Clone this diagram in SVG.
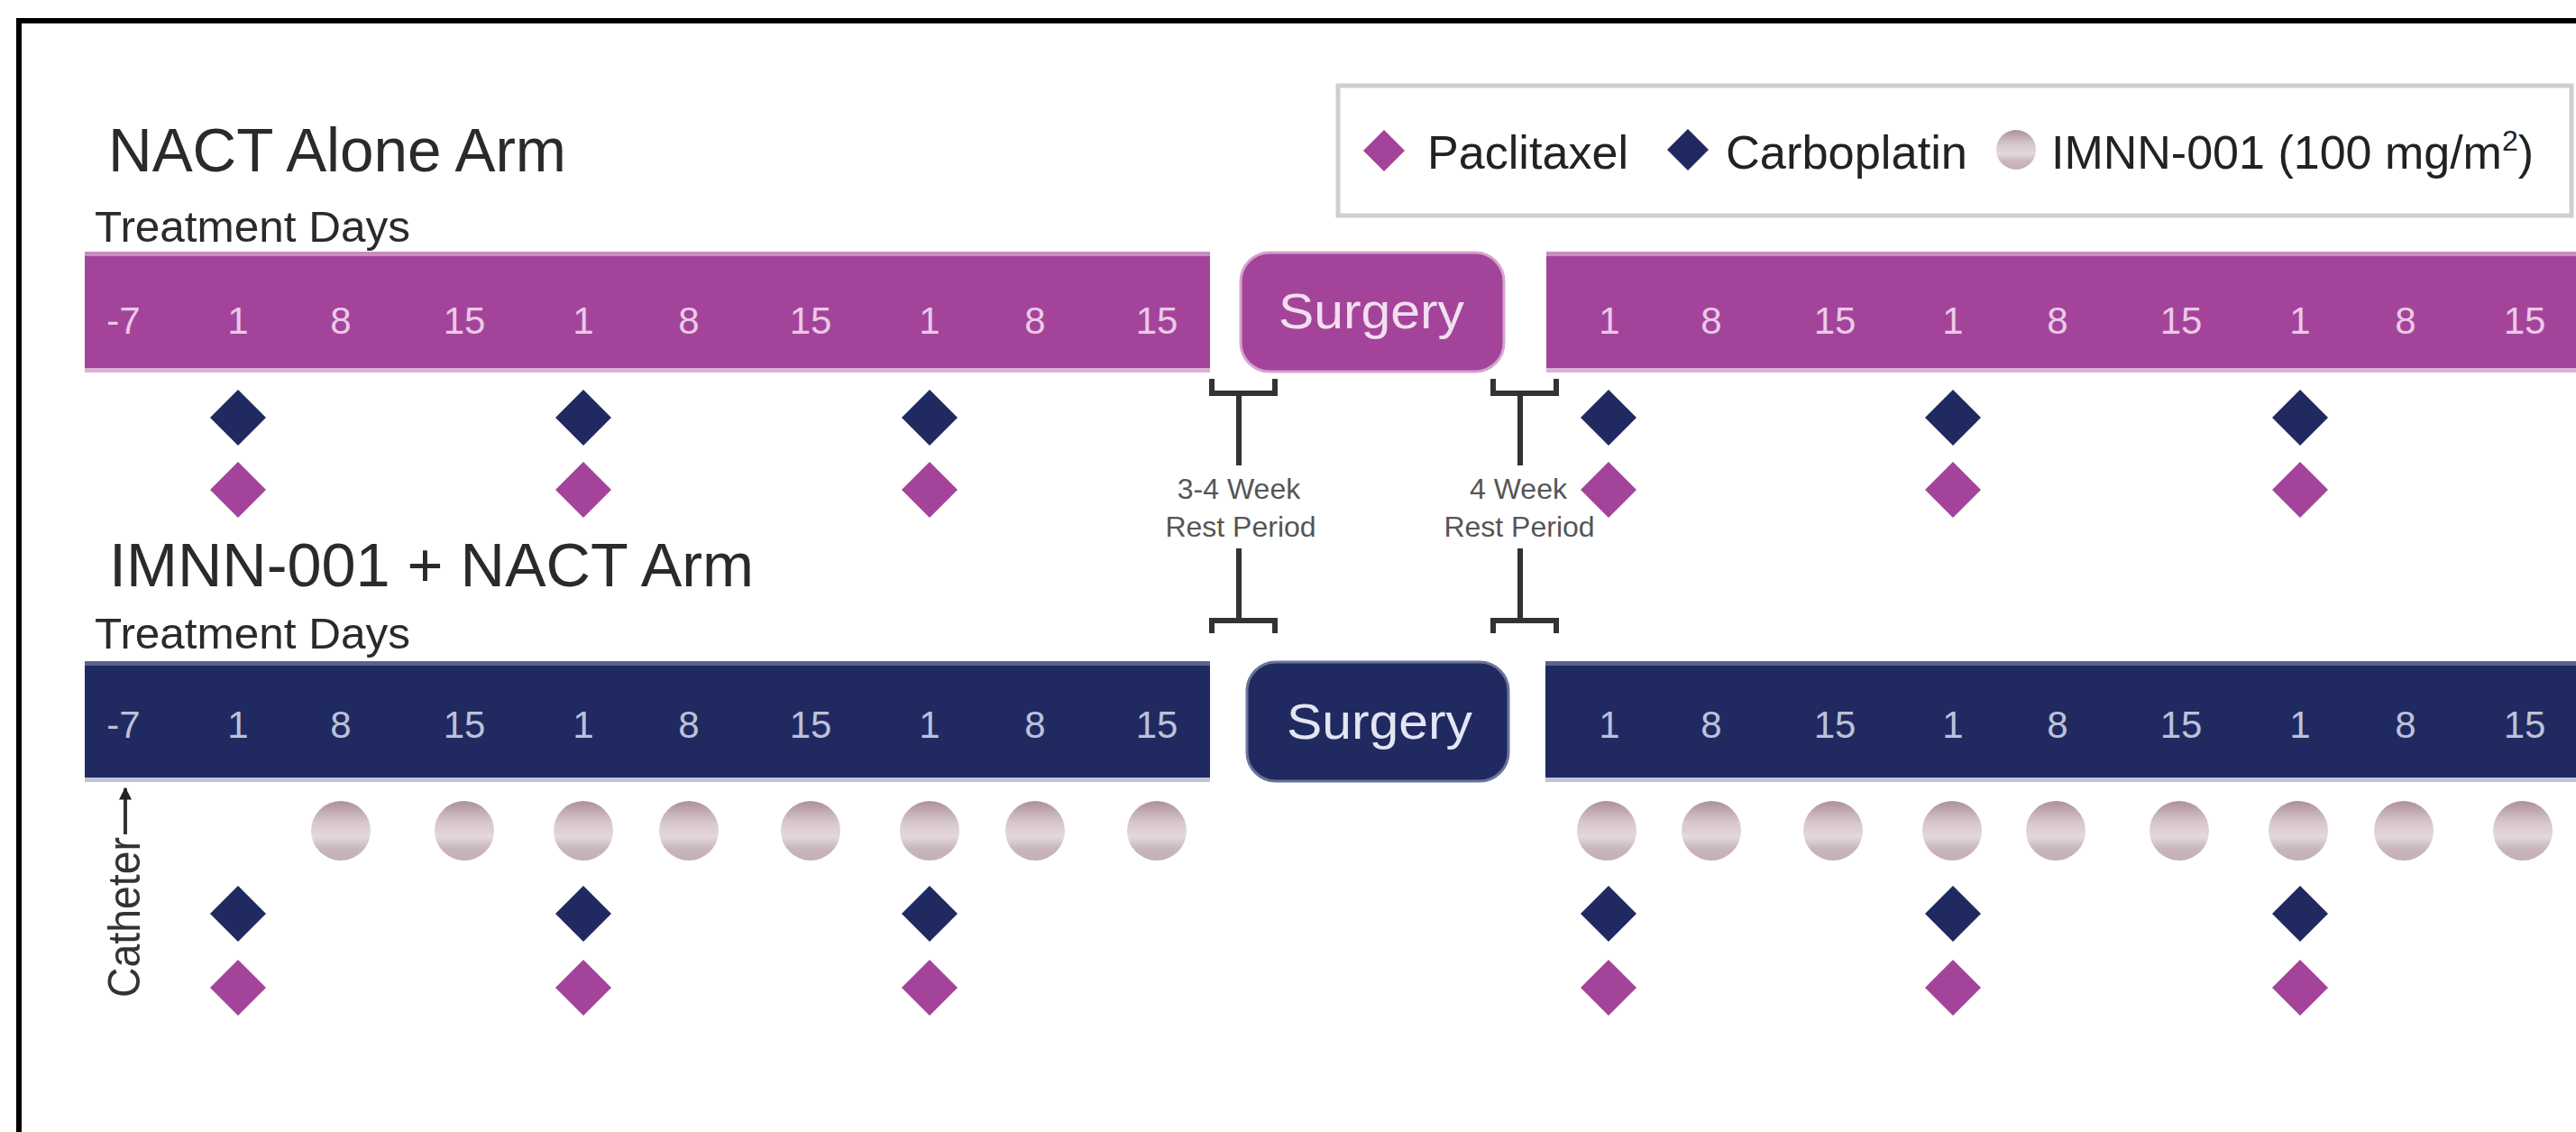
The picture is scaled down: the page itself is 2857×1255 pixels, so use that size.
<svg xmlns="http://www.w3.org/2000/svg" xmlns:xlink="http://www.w3.org/1999/xlink" width="2857" height="1255" viewBox="0 0 2857 1255">
<style>
  .title{font-family:"Liberation Sans",Arial,sans-serif;font-size:68px;fill:#2a2a2a}
  .sub{font-family:"Liberation Sans",Arial,sans-serif;font-size:48px;fill:#2a2a2a}
  .dayP{font-family:"Liberation Sans",Arial,sans-serif;font-size:42px;fill:#ecc9e7;text-anchor:middle}
  .dayN{font-family:"Liberation Sans",Arial,sans-serif;font-size:42px;fill:#bcc1d9;text-anchor:middle}
  .surgP{font-family:"Liberation Sans",Arial,sans-serif;font-size:56px;fill:#f3def0;text-anchor:middle}
  .surgN{font-family:"Liberation Sans",Arial,sans-serif;font-size:56px;fill:#e3e6f1;text-anchor:middle}
  .leg{font-family:"Liberation Sans",Arial,sans-serif;font-size:52px;fill:#222}
  .rest{font-family:"Liberation Sans",Arial,sans-serif;font-size:32px;fill:#555;text-anchor:middle}
  .purple{fill:#A3449A}
  .navy{fill:#202A61}
  .brk{fill:none;stroke:#333;stroke-width:6}
</style>
<defs>
  <path id="dia" d="M0,-31 L31,0 L0,31 L-31,0Z"/>
  <path id="diaS" d="M0,-23 L23,0 L0,23 L-23,0Z"/>
  <linearGradient id="pill" x1="0" y1="0" x2="0" y2="1">
    <stop offset="0" stop-color="#ad8f9c"/>
    <stop offset="0.35" stop-color="#d6c6cc"/>
    <stop offset="0.6" stop-color="#e4d8da"/>
    <stop offset="0.8" stop-color="#c9b6bd"/>
    <stop offset="1" stop-color="#c3afb8"/>
  </linearGradient>
  <marker id="arr" viewBox="0 0 10 10" refX="9" refY="5" markerWidth="3.5" markerHeight="3.5" orient="auto">
    <path d="M0,0 L10,5 L0,10Z" fill="#222"/>
  </marker>
</defs>
<rect width="2857" height="1255" fill="#ffffff"/>
<g id="frame">
  <rect x="18" y="20" width="2839" height="6" fill="#000"/>
  <rect x="18" y="20" width="6" height="1235" fill="#000"/>
</g>

<g id="title-nact">
  <text class="title" x="120" y="190" textLength="508" lengthAdjust="spacingAndGlyphs">NACT Alone Arm</text>
  <text class="sub" x="105" y="268" textLength="350" lengthAdjust="spacingAndGlyphs">Treatment Days</text>
</g>

<g id="legend">
  <rect x="1484" y="95" width="1368" height="144" fill="#fff" stroke="#cfcfcf" stroke-width="5"/>
  <use href="#diaS" x="1535" y="167" class="purple"/>
  <text class="leg" x="1583" y="187" textLength="223" lengthAdjust="spacingAndGlyphs">Paclitaxel</text>
  <use href="#diaS" x="1872" y="166" class="navy"/>
  <text class="leg" x="1914" y="187" textLength="268" lengthAdjust="spacingAndGlyphs">Carboplatin</text>
  <circle cx="2236" cy="166" r="22" fill="url(#pill)"/>
  <text class="leg" x="2275" y="187">IMNN-001 (100 mg/m<tspan font-size="32" dy="-20">2</tspan><tspan dy="20">)</tspan></text>
</g>

<g id="bar-nact-pre">
  <rect x="94" y="279" width="1248" height="134" class="purple"/>
  <rect x="94" y="279" width="1248" height="5" fill="#c98cc1"/>
  <rect x="94" y="408" width="1248" height="5" fill="#dcb1d6"/>
  <text class="dayP" x="137" y="370">-7</text>
  <text class="dayP" x="264" y="370">1</text>
  <text class="dayP" x="378" y="370">8</text>
  <text class="dayP" x="515" y="370">15</text>
  <text class="dayP" x="647" y="370">1</text>
  <text class="dayP" x="764" y="370">8</text>
  <text class="dayP" x="899" y="370">15</text>
  <text class="dayP" x="1031" y="370">1</text>
  <text class="dayP" x="1148" y="370">8</text>
  <text class="dayP" x="1283" y="370">15</text>
</g>
<g id="surgery-nact">
  <rect x="1376" y="280" width="292" height="132" rx="32" class="purple" stroke="#d6a3cf" stroke-width="3"/>
  <text class="surgP" x="1521" y="364" textLength="206" lengthAdjust="spacingAndGlyphs">Surgery</text>
</g>
<g id="bar-nact-post">
  <rect x="1715" y="279" width="1142" height="134" class="purple"/>
  <rect x="1715" y="279" width="1142" height="5" fill="#c98cc1"/>
  <rect x="1715" y="408" width="1142" height="5" fill="#dcb1d6"/>
  <text class="dayP" x="1785" y="370">1</text>
  <text class="dayP" x="1898" y="370">8</text>
  <text class="dayP" x="2035" y="370">15</text>
  <text class="dayP" x="2166" y="370">1</text>
  <text class="dayP" x="2282" y="370">8</text>
  <text class="dayP" x="2419" y="370">15</text>
  <text class="dayP" x="2551" y="370">1</text>
  <text class="dayP" x="2668" y="370">8</text>
  <text class="dayP" x="2800" y="370">15</text>
</g>
<g id="doses-nact">
  <use href="#dia" x="264" y="463" class="navy"/>
  <use href="#dia" x="647" y="463" class="navy"/>
  <use href="#dia" x="1031" y="463" class="navy"/>
  <use href="#dia" x="1784" y="463" class="navy"/>
  <use href="#dia" x="2166" y="463" class="navy"/>
  <use href="#dia" x="2551" y="463" class="navy"/>
  <use href="#dia" x="264" y="543" class="purple"/>
  <use href="#dia" x="647" y="543" class="purple"/>
  <use href="#dia" x="1031" y="543" class="purple"/>
  <use href="#dia" x="1784" y="543" class="purple"/>
  <use href="#dia" x="2166" y="543" class="purple"/>
  <use href="#dia" x="2551" y="543" class="purple"/>
</g>

<g id="rest-labels">
  <text class="rest" x="1374" y="553">3-4 Week</text>
  <text class="rest" x="1376" y="595">Rest Period</text>
  <text class="rest" x="1684" y="553">4 Week</text>
  <text class="rest" x="1685" y="595">Rest Period</text>
</g>

<g id="title-imnn">
  <text class="title" x="121" y="650" textLength="715" lengthAdjust="spacingAndGlyphs">IMNN-001 + NACT Arm</text>
  <text class="sub" x="105" y="719" textLength="350" lengthAdjust="spacingAndGlyphs">Treatment Days</text>
</g>

<g id="bar-imnn-pre">
  <rect x="94" y="733" width="1248" height="134" class="navy"/>
  <rect x="94" y="733" width="1248" height="5" fill="#5b6490"/>
  <rect x="94" y="862" width="1248" height="5" fill="#c0c4d7"/>
  <text class="dayN" x="137" y="818">-7</text>
  <text class="dayN" x="264" y="818">1</text>
  <text class="dayN" x="378" y="818">8</text>
  <text class="dayN" x="515" y="818">15</text>
  <text class="dayN" x="647" y="818">1</text>
  <text class="dayN" x="764" y="818">8</text>
  <text class="dayN" x="899" y="818">15</text>
  <text class="dayN" x="1031" y="818">1</text>
  <text class="dayN" x="1148" y="818">8</text>
  <text class="dayN" x="1283" y="818">15</text>
</g>
<g id="surgery-imnn">
  <rect x="1383" y="734" width="290" height="132" rx="32" class="navy" stroke="#6a7399" stroke-width="3"/>
  <text class="surgN" x="1530" y="819" textLength="206" lengthAdjust="spacingAndGlyphs">Surgery</text>
</g>
<g id="bar-imnn-post">
  <rect x="1714" y="733" width="1143" height="134" class="navy"/>
  <rect x="1714" y="733" width="1143" height="5" fill="#5b6490"/>
  <rect x="1714" y="862" width="1143" height="5" fill="#c0c4d7"/>
  <text class="dayN" x="1785" y="818">1</text>
  <text class="dayN" x="1898" y="818">8</text>
  <text class="dayN" x="2035" y="818">15</text>
  <text class="dayN" x="2166" y="818">1</text>
  <text class="dayN" x="2282" y="818">8</text>
  <text class="dayN" x="2419" y="818">15</text>
  <text class="dayN" x="2551" y="818">1</text>
  <text class="dayN" x="2668" y="818">8</text>
  <text class="dayN" x="2800" y="818">15</text>
</g>
<g id="doses-imnn">
  <g fill="url(#pill)">
    <ellipse cx="378" cy="921" rx="33" ry="33"/>
    <ellipse cx="515" cy="921" rx="33" ry="33"/>
    <ellipse cx="647" cy="921" rx="33" ry="33"/>
    <ellipse cx="764" cy="921" rx="33" ry="33"/>
    <ellipse cx="899" cy="921" rx="33" ry="33"/>
    <ellipse cx="1031" cy="921" rx="33" ry="33"/>
    <ellipse cx="1148" cy="921" rx="33" ry="33"/>
    <ellipse cx="1283" cy="921" rx="33" ry="33"/>
    <ellipse cx="1782" cy="921" rx="33" ry="33"/>
    <ellipse cx="1898" cy="921" rx="33" ry="33"/>
    <ellipse cx="2033" cy="921" rx="33" ry="33"/>
    <ellipse cx="2165" cy="921" rx="33" ry="33"/>
    <ellipse cx="2280" cy="921" rx="33" ry="33"/>
    <ellipse cx="2417" cy="921" rx="33" ry="33"/>
    <ellipse cx="2549" cy="921" rx="33" ry="33"/>
    <ellipse cx="2666" cy="921" rx="33" ry="33"/>
    <ellipse cx="2798" cy="921" rx="33" ry="33"/>
  </g>
  <use href="#dia" x="264" y="1013" class="navy"/>
  <use href="#dia" x="647" y="1013" class="navy"/>
  <use href="#dia" x="1031" y="1013" class="navy"/>
  <use href="#dia" x="1784" y="1013" class="navy"/>
  <use href="#dia" x="2166" y="1013" class="navy"/>
  <use href="#dia" x="2551" y="1013" class="navy"/>
  <use href="#dia" x="264" y="1095" class="purple"/>
  <use href="#dia" x="647" y="1095" class="purple"/>
  <use href="#dia" x="1031" y="1095" class="purple"/>
  <use href="#dia" x="1784" y="1095" class="purple"/>
  <use href="#dia" x="2166" y="1095" class="purple"/>
  <use href="#dia" x="2551" y="1095" class="purple"/>
</g>

<g id="catheter">
  <text transform="translate(155,1106) rotate(-90)" font-family="'Liberation Sans',Arial,sans-serif" font-size="50" fill="#333" textLength="178" lengthAdjust="spacingAndGlyphs">Catheter</text>
</g>

<g id="connectors">
  <path class="brk" d="M1344,420 V436 H1414 V420 M1374,436 V516"/>
  <path class="brk" d="M1374,608 V688 M1344,702 V688 H1414 V702"/>
  <path class="brk" d="M1656,420 V436 H1726 V420 M1686,436 V516"/>
  <path class="brk" d="M1686,608 V688 M1656,702 V688 H1726 V702"/>
  <line x1="139" y1="925" x2="139" y2="874" stroke="#333" stroke-width="4" marker-end="url(#arr)"/>
</g>
</svg>
